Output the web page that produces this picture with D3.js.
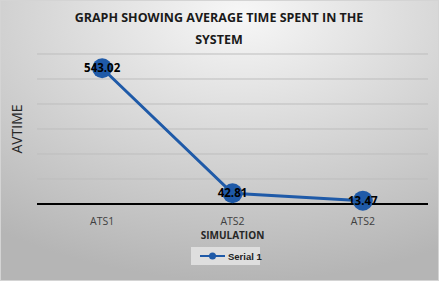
<!DOCTYPE html>
<html>
<head>
<meta charset="utf-8">
<script src="https://cdn.jsdelivr.net/npm/d3@7"></script>
<style>
  body { margin: 0; background: #fff; }
  svg { display: block; }
</style>
</head>
<body>
<div id="main"></div>
<script>
const categories = ["ATS1", "ATS2", "ATS2"];
const avtime = [543.02, 42.81, 13.47];
const yTicks = [0, 100, 200, 300, 400, 500, 600];
const seriesName = "Serial 1";

const width = 439, height = 281;
const margin = { top: 54, right: 11, bottom: 77, left: 37 };

const svg = d3.select('#main')
    .append('svg')
    .attr('width', width)
    .attr('height', height);

// background gradient
const defs = svg.append('defs');
const grad = defs.append('radialGradient')
    .attr('id', 'bg')
    .attr('cx', '55%').attr('cy', '5%')
    .attr('r', '95%');
grad.append('stop').attr('offset', '0%').attr('stop-color', '#f7f7f7');
grad.append('stop').attr('offset', '100%').attr('stop-color', '#b5b5b5');

svg.append('rect')
    .attr('width', width).attr('height', height)
    .attr('fill', 'url(#bg)')
    .attr('stroke', '#d4d4d4')
    .attr('stroke-width', 2);

const x = d3.scaleBand()
    .domain(d3.range(categories.length))
    .range([margin.left, width - margin.right]);

const y = d3.scaleLinear()
    .domain([0, 600])
    .range([height - margin.bottom, margin.top]);

// gridlines
svg.append('g')
    .selectAll('line')
    .data(yTicks.filter(d => d > 0))
    .enter()
    .append('line')
    .attr('x1', margin.left)
    .attr('x2', width - margin.right)
    .attr('y1', d => y(d))
    .attr('y2', d => y(d))
    .attr('stroke', '#bdbdbd')
    .attr('stroke-width', 1);

// baseline
svg.append('line')
    .attr('x1', margin.left)
    .attr('x2', width - margin.right)
    .attr('y1', y(0))
    .attr('y2', y(0))
    .attr('stroke', '#000')
    .attr('stroke-width', 2);

// x axis labels
svg.append('g')
    .selectAll('text')
    .data(categories)
    .enter()
    .append('text')
    .attr('x', (d, i) => x(i) + x.bandwidth() / 2)
    .attr('y', y(0) + 21)
    .attr('text-anchor', 'middle')
    .style('font-family', '"Open Sans", sans-serif')
    .style('font-size', '10.5px')
    .attr('fill', '#404040')
    .text(d => d);

// axis titles
svg.append('text')
    .attr('x', margin.left + (width - margin.left - margin.right) / 2)
    .attr('y', y(0) + 35)
    .attr('text-anchor', 'middle')
    .style('font-family', '"Open Sans", sans-serif')
    .style('font-size', '10px')
    .style('font-weight', 'bold')
    .attr('fill', '#262626')
    .text('SIMULATION');

svg.append('text')
    .attr('transform', `translate(22, ${y(300)}) rotate(-90)`)
    .attr('text-anchor', 'middle')
    .style('font-family', '"Open Sans", sans-serif')
    .style('font-size', '14px')
    .attr('fill', '#262626')
    .text('AVTIME');

// title
const title = svg.append('text')
    .attr('text-anchor', 'middle')
    .style('font-family', '"Open Sans", sans-serif')
    .style('font-size', '12.5px')
    .style('font-weight', 'bold')
    .attr('fill', '#1a1a1a');
title.append('tspan').attr('x', 219).attr('y', 22).text('GRAPH SHOWING AVERAGE TIME SPENT IN THE');
title.append('tspan').attr('x', 219).attr('y', 44).text('SYSTEM');

// line
const line = d3.line()
    .x((d, i) => x(i) + x.bandwidth() / 2)
    .y(d => y(d));

svg.append('path')
    .datum(avtime)
    .attr('d', line)
    .attr('fill', 'none')
    .attr('stroke', '#1f5aa8')
    .attr('stroke-width', 3);

svg.append('g')
    .selectAll('circle')
    .data(avtime)
    .enter()
    .append('circle')
    .attr('cx', (d, i) => x(i) + x.bandwidth() / 2)
    .attr('cy', d => y(d))
    .attr('r', 10)
    .attr('fill', '#1f5aa8');

svg.append('g')
    .selectAll('text')
    .data(avtime)
    .enter()
    .append('text')
    .attr('x', (d, i) => x(i) + x.bandwidth() / 2)
    .attr('y', d => y(d) + 4)
    .attr('text-anchor', 'middle')
    .style('font-family', '"Open Sans", sans-serif')
    .style('font-size', '11.5px')
    .style('font-weight', 'bold')
    .attr('fill', '#000')
    .text(d => d.toFixed(2));

// legend
const lg = svg.append('g').attr('transform', 'translate(191, 247)');
lg.append('rect')
    .attr('width', 69).attr('height', 18)
    .attr('fill', '#dedede');
lg.append('line')
    .attr('x1', 9).attr('x2', 34)
    .attr('y1', 9).attr('y2', 9)
    .attr('stroke', '#1f5aa8').attr('stroke-width', 2);
lg.append('circle')
    .attr('cx', 21.5).attr('cy', 9).attr('r', 3.5)
    .attr('fill', '#1f5aa8');
lg.append('text')
    .attr('x', 37).attr('y', 13)
    .style('font-family', '"Liberation Sans", Arial, sans-serif')
    .style('font-size', '9.5px')
    .style('font-weight', 'bold')
    .attr('fill', '#222')
    .text(seriesName);
</script>
</body>
</html>
